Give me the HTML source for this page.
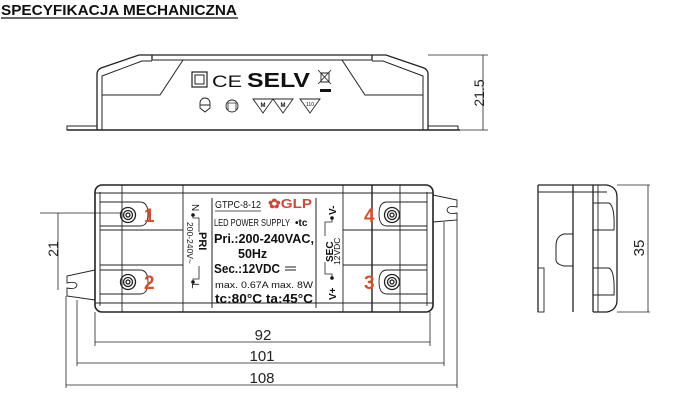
<!DOCTYPE html>
<html><head><meta charset="utf-8"><style>
html,body{margin:0;padding:0;background:#fff;}
svg{display:block;}
text{font-family:"Liberation Sans",sans-serif;}
</style></head><body>
<svg width="678" height="409" viewBox="0 0 678 409" xmlns="http://www.w3.org/2000/svg" fill="none" stroke="#222" stroke-width="1">
<!-- Title -->
<text x="1" y="15" font-size="15" font-weight="bold" fill="#111" stroke="none" textLength="236" lengthAdjust="spacingAndGlyphs">SPECYFIKACJA MECHANICZNA</text>
<line x1="1" y1="18" x2="238" y2="18" stroke="#111" stroke-width="1.2"/>

<!-- TOP VIEW -->
<g stroke-width="1.3">
<path d="M97 130 V74 Q97 70 101 68 L139 55 H386 L424 68 Q428 70 428 74 V130"/>
<line x1="67" y1="130" x2="460" y2="130" stroke-width="1.5"/>
<path d="M102 130 V76 L142 61 H152 M152 55 V60 H183 L183 60 L160 95 H102" stroke-width="1"/>
<path d="M423 130 V76 L383 61 H372 M372 55 V60 H342 L365 95 H423" stroke-width="1"/>
<line x1="152" y1="55" x2="152" y2="60"/><line x1="372" y1="55" x2="372" y2="60"/>
<line x1="152" y1="60" x2="372" y2="60" stroke-width="1"/>
<rect x="67" y="126" width="30" height="4" stroke-width="1"/>
<rect x="428" y="126" width="30" height="4" stroke-width="1"/>
</g>
<line x1="428" y1="55" x2="488" y2="55" stroke-width="0.8"/>
<line x1="460" y1="130" x2="488" y2="130" stroke-width="0.8"/>
<line x1="483" y1="55" x2="483" y2="130" stroke-width="0.8"/>
<text transform="translate(484,93) rotate(-90)" text-anchor="middle" font-size="14" fill="#222" stroke="none">21.5</text>
<!-- symbols -->
<rect x="192" y="72" width="15" height="15" stroke-width="1.2"/>
<rect x="195" y="75" width="9" height="9" stroke-width="1"/>
<text x="212" y="87" font-size="17" fill="#111" stroke="none" textLength="30" lengthAdjust="spacingAndGlyphs">CE</text>
<text x="247" y="87" font-size="20" font-weight="bold" fill="#111" stroke="none" font-family="Liberation Serif" textLength="63" lengthAdjust="spacingAndGlyphs">SELV</text>
<path d="M318 70 L331 84 M331 70 L318 84 M321 73 H329 V82 H321 Z" stroke-width="0.9"/>
<rect x="320" y="89" width="11" height="3" fill="#111" stroke="none"/>
<path d="M200 103 a5 5 0 0 1 10 0 v5 l-5 4 l-5 -4 z M200 105 h10" stroke-width="0.9"/>
<circle cx="232" cy="106" r="6" stroke-width="0.9"/><path d="M228 110 V103 H236 V110" stroke-width="0.8"/>
<path d="M253 99 H273 L263 113 Z M273 99 H293 L283 113 Z M300 99 H320 L310 113 Z" stroke-width="0.9"/>
<text x="263" y="107" font-size="6" text-anchor="middle" fill="#111" stroke="none" font-weight="bold">M</text>
<text x="283" y="107" font-size="6" text-anchor="middle" fill="#111" stroke="none" font-weight="bold">M</text>
<text x="310" y="106" font-size="5" text-anchor="middle" fill="#111" stroke="none">110</text>

<!-- BOTTOM VIEW -->
<g stroke-width="1.6">
<rect x="95" y="185" width="338" height="127" rx="7"/>
</g>
<g stroke-width="0.9">
<line x1="100" y1="192" x2="100" y2="306"/><line x1="122" y1="185" x2="122" y2="312"/>
<line x1="183" y1="185" x2="183" y2="312"/><line x1="343" y1="185" x2="343" y2="312"/>
<line x1="372" y1="185" x2="372" y2="312" stroke-width="1.4"/><line x1="400" y1="185" x2="400" y2="312"/>
<line x1="427" y1="192" x2="427" y2="306"/>
<line x1="95" y1="193" x2="433" y2="193"/><line x1="95" y1="303" x2="433" y2="303"/>
<path d="M100 202 H140 Q148 202 148 214 Q148 226 140 226 H100"/>
<path d="M100 270 H140 Q148 270 148 282 Q148 294 140 294 H100"/>
<path d="M427 202 H387 Q379 202 379 214 Q379 226 387 226 H427"/>
<path d="M427 270 H387 Q379 270 379 282 Q379 294 387 294 H427"/>
<line x1="100" y1="230" x2="183" y2="230"/><line x1="100" y1="265" x2="183" y2="265"/>
<line x1="343" y1="230" x2="427" y2="230"/><line x1="343" y1="265" x2="427" y2="265"/>
</g>
<!-- screws -->
<g stroke-width="1.3">
<circle cx="128" cy="215" r="7.5"/><circle cx="128" cy="215" r="4.5"/><circle cx="128" cy="215" r="2"/>
<circle cx="128" cy="282" r="7.5"/><circle cx="128" cy="282" r="4.5"/><circle cx="128" cy="282" r="2"/>
<circle cx="392" cy="215" r="7.5"/><circle cx="392" cy="215" r="4.5"/><circle cx="392" cy="215" r="2"/>
<circle cx="392" cy="282" r="7.5"/><circle cx="392" cy="282" r="4.5"/><circle cx="392" cy="282" r="2"/>
</g>
<g font-size="19" font-weight="bold" fill="#d4502b" stroke="none">
<text x="144" y="222">1</text><text x="144" y="289">2</text>
<text x="364" y="222">4</text><text x="364" y="289">3</text>
</g>
<!-- tabs -->
<path d="M433 195 L457 200 V207 Q448 205 447 210 Q448 215 457 213 V220 L433 222" stroke-width="0.9"/>
<path d="M95 270 L67 276 V283 Q76 281 77 285 Q76 290 67 288 V296 L95 300" stroke-width="0.9"/>
<!-- label -->
<line x1="212" y1="198" x2="212" y2="308" stroke-width="1"/>
<line x1="316" y1="198" x2="316" y2="308" stroke-width="1"/>
<text x="215" y="208" font-size="10" fill="#111" stroke="none" textLength="46" lengthAdjust="spacingAndGlyphs">GTPC-8-12</text>
<line x1="215" y1="211" x2="261" y2="211" stroke-width="0.8"/>
<text x="268" y="208" font-size="13" font-weight="bold" fill="#c94a3a" stroke="none" font-family="Liberation Serif" textLength="44" lengthAdjust="spacingAndGlyphs">✿GLP</text>
<text x="214" y="226" font-size="10" fill="#111" stroke="none" textLength="76" lengthAdjust="spacingAndGlyphs">LED POWER SUPPLY</text>
<text x="295" y="226" font-size="10" font-weight="bold" fill="#111" stroke="none">•tc</text>
<text x="214" y="243" font-size="12.5" font-weight="bold" fill="#111" stroke="none" textLength="100" lengthAdjust="spacingAndGlyphs">Pri.:200-240VAC,</text>
<text x="238" y="258" font-size="12.5" font-weight="bold" fill="#111" stroke="none">50Hz</text>
<text x="214" y="273" font-size="12.5" font-weight="bold" fill="#111" stroke="none" textLength="66" lengthAdjust="spacingAndGlyphs">Sec.:12VDC</text>
<path d="M285 267 H296 M285 270 H296" stroke-width="0.9"/>
<text x="215" y="288" font-size="9.5" fill="#111" stroke="none" textLength="98" lengthAdjust="spacingAndGlyphs">max. 0.67A  max. 8W</text>
<text x="215" y="303" font-size="12.5" font-weight="bold" fill="#111" stroke="none" textLength="98" lengthAdjust="spacingAndGlyphs">tc:80°C ta:45°C</text>
<!-- terminals -->
<g fill="#111" stroke="none" font-size="10">
<text transform="translate(192,204) rotate(90)">N</text>
<text transform="translate(192,283) rotate(90)">L</text>
<text transform="translate(199,232) rotate(90)" font-size="11" font-weight="bold">PRI</text>
<text transform="translate(187,222) rotate(90)" font-size="8.5">200-240V~</text>
<text transform="translate(336,215) rotate(-90)" font-weight="bold">V-</text>
<text transform="translate(336,300) rotate(-90)" font-weight="bold">V+</text>
<text transform="translate(333,262) rotate(-90)" font-size="10" font-weight="bold">SEC</text>
<text transform="translate(340,265) rotate(-90)" font-size="8.5">12VDC</text>
</g>
<circle cx="193" cy="215" r="1.8" fill="#111" stroke="none"/><circle cx="193" cy="282" r="1.8" fill="#111" stroke="none"/>
<circle cx="332" cy="218" r="1.8" fill="#111" stroke="none"/><circle cx="332" cy="278" r="1.8" fill="#111" stroke="none"/>
<path d="M193 215 V218 H199 V232 M199 266 V279 H193 V282" stroke-width="0.8"/>
<path d="M332 218 V222 H325 V236 M325 262 V274 H332 V278" stroke-width="0.8"/>

<!-- 21 dim -->
<line x1="40" y1="213" x2="122" y2="213" stroke-width="0.8"/>
<line x1="58" y1="213" x2="58" y2="290" stroke-width="0.8"/>
<text transform="translate(58,249) rotate(-90)" text-anchor="middle" font-size="14" fill="#222" stroke="none">21</text>
<!-- bottom dims -->
<g stroke-width="0.8">
<line x1="95" y1="312" x2="95" y2="346"/><line x1="430" y1="312" x2="430" y2="346"/>
<line x1="95" y1="342" x2="430" y2="342"/>
<line x1="77" y1="300" x2="77" y2="366"/><line x1="444" y1="222" x2="444" y2="366"/>
<line x1="77" y1="363" x2="444" y2="363"/>
<line x1="66" y1="296" x2="66" y2="388"/><line x1="457" y1="220" x2="457" y2="388"/>
<line x1="66" y1="385" x2="457" y2="385"/>
</g>
<g font-size="15" fill="#222" stroke="none" text-anchor="middle">
<text x="263" y="340">92</text><text x="262" y="361">101</text><text x="262" y="383">108</text>
</g>

<!-- SIDE VIEW -->
<g stroke-width="1.3">
<line x1="538" y1="185" x2="538" y2="312"/>
<line x1="573" y1="185" x2="573" y2="312"/>
<path d="M593 185 H607 Q617 187 617 197 V300 Q617 310 607 312 H593"/>
<line x1="538" y1="185" x2="593" y2="185"/>
<line x1="538" y1="192" x2="607" y2="192" stroke-width="0.9"/>
<line x1="593" y1="185" x2="593" y2="312"/>
<line x1="598" y1="185" x2="598" y2="312" stroke-width="0.9"/>
<path d="M593 203 H609 Q615 206 614 230 H593" stroke-width="1"/>
<path d="M593 268 H609 Q615 271 614 295 H593" stroke-width="1"/>
<path d="M573 234 H564 Q556 236 556 246 V260 Q556 264 564 266 H573" stroke-width="1"/>
<rect x="538" y="268" width="6" height="44" stroke-width="0.9"/>
</g>
<line x1="617" y1="185" x2="650" y2="185" stroke-width="0.8"/>
<line x1="617" y1="312" x2="650" y2="312" stroke-width="0.8"/>
<line x1="648" y1="185" x2="648" y2="312" stroke-width="0.8"/>
<text transform="translate(644,248) rotate(-90)" text-anchor="middle" font-size="15" fill="#222" stroke="none">35</text>
</svg>
</body></html>
